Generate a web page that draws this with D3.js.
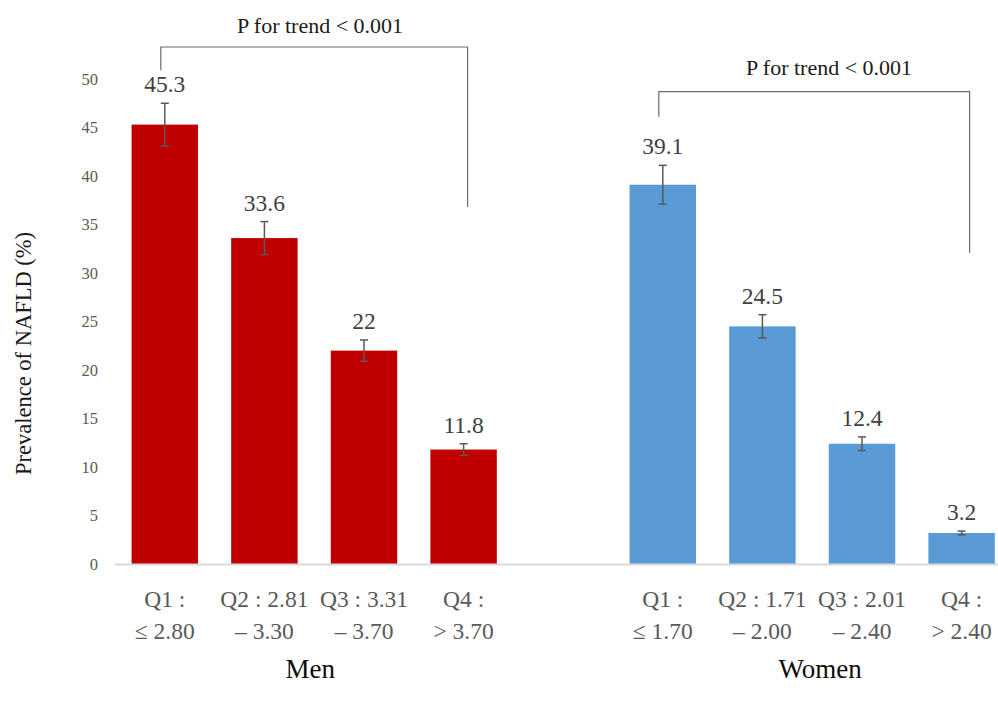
<!DOCTYPE html>
<html>
<head>
<meta charset="utf-8">
<script src="https://cdn.jsdelivr.net/npm/d3@7"></script>
<style>
  html, body { margin: 0; padding: 0; background: #fff; }
  svg { display: block; }
  svg text { font-family: "Liberation Serif", "DejaVu Serif", serif; }
</style>
</head>
<body>
<svg id="chart" width="998" height="702"></svg>
<script>
// ---- data ----
const groups = ["Men", "Women"];
const menLabels = [["Q1 :", "\u2264 2.80"], ["Q2 : 2.81", "\u2013 3.30"], ["Q3 : 3.31", "\u2013 3.70"], ["Q4 :", "> 3.70"]];
const womenLabels = [["Q1 :", "\u2264 1.70"], ["Q2 : 1.71", "\u2013 2.00"], ["Q3 : 2.01", "\u2013 2.40"], ["Q4 :", "> 2.40"]];
const menValues = [45.3, 33.6, 22, 11.8];
const womenValues = [39.1, 24.5, 12.4, 3.2];
const menErrors = [2.2, 1.7, 1.1, 0.6];
const womenErrors = [2.0, 1.2, 0.7, 0.2];
const yTicks = [0, 5, 10, 15, 20, 25, 30, 35, 40, 45, 50];
const trendText = "P for trend < 0.001";
const yTitle = "Prevalence of NAFLD (%)";

const colors = { Men: "#C00000", Women: "#5B9BD5" };

// build rows
const rows = [];
menValues.forEach((v, i) => rows.push({ key: "M" + i, group: "Men", value: v, err: menErrors[i], label: menLabels[i] }));
const gapKey = "gap";
womenValues.forEach((v, i) => rows.push({ key: "W" + i, group: "Women", value: v, err: womenErrors[i], label: womenLabels[i] }));
const domain = [...rows.slice(0, 4).map(d => d.key), gapKey, ...rows.slice(4).map(d => d.key)];

const svg = d3.select("#chart");
const x = d3.scaleBand().domain(domain).range([115, 1011.4]).paddingInner(0.333).paddingOuter(0.1665);
const y = d3.scaleLinear().domain([0, 50]).range([564, 79]);

// y tick labels (no axis line)
const yAxis = d3.axisLeft(y).tickValues(yTicks).tickSize(0).tickPadding(0);
const gy = svg.append("g").attr("transform", "translate(98,0)").call(yAxis);
gy.attr("font-family", null);
gy.select(".domain").remove();
gy.selectAll("text").attr("font-size", 16.5).attr("fill", "#595959");

// y title
svg.append("text")
  .attr("transform", "translate(31," + ((230 + 477) / 2) + ") rotate(-90)")
  .attr("text-anchor", "middle")
  .attr("font-size", 22.5)
  .attr("fill", "#1a1a1a")
  .text(yTitle);

// bars
svg.append("g").selectAll("rect").data(rows).join("rect")
  .attr("x", d => x(d.key))
  .attr("width", x.bandwidth())
  .attr("y", d => y(d.value))
  .attr("height", d => y(0) - y(d.value))
  .attr("fill", d => colors[d.group]);

// x axis line
svg.append("line")
  .attr("x1", 115).attr("x2", 998)
  .attr("y1", y(0) + 0.5).attr("y2", y(0) + 0.5)
  .attr("stroke", "#d9d9d9").attr("stroke-width", 2);

// error bars
const eg = svg.append("g").attr("stroke", "#595959").attr("stroke-width", 1.5).attr("fill", "none");
rows.forEach(d => {
  const cx = x(d.key) + x.bandwidth() / 2;
  eg.append("line").attr("x1", cx).attr("x2", cx).attr("y1", y(d.value + d.err)).attr("y2", y(d.value - d.err));
  eg.append("line").attr("x1", cx - 4).attr("x2", cx + 4).attr("y1", y(d.value + d.err)).attr("y2", y(d.value + d.err));
  eg.append("line").attr("x1", cx - 4).attr("x2", cx + 4).attr("y1", y(d.value - d.err)).attr("y2", y(d.value - d.err));
});

// value labels
svg.append("g").selectAll("text").data(rows).join("text")
  .attr("x", d => x(d.key) + x.bandwidth() / 2)
  .attr("y", d => y(d.value + d.err) - 11)
  .attr("text-anchor", "middle")
  .attr("font-size", 23.5)
  .attr("fill", "#404040")
  .text(d => d.value);

// x category labels (two lines)
const xl = svg.append("g").selectAll("text").data(rows).join("text")
  .attr("text-anchor", "middle")
  .attr("font-size", 23.5)
  .attr("fill", "#595959");
xl.append("tspan").attr("x", d => x(d.key) + x.bandwidth() / 2).attr("y", 607).text(d => d.label[0]);
xl.append("tspan").attr("x", d => x(d.key) + x.bandwidth() / 2).attr("y", 639).text(d => d.label[1]);

// group labels
const groupCenter = g => {
  const ks = rows.filter(r => r.group === g).map(r => r.key);
  return (x(ks[0]) + x(ks[ks.length - 1]) + x.bandwidth()) / 2;
};
svg.append("g").selectAll("text").data(groups).join("text")
  .attr("x", g => groupCenter(g) + (g === "Men" ? -4 : 8))
  .attr("y", 678)
  .attr("text-anchor", "middle")
  .attr("font-size", 27)
  .attr("fill", "#0d0d0d")
  .text(g => g);

// trend brackets
const cxOf = k => x(k) + x.bandwidth() / 2;
const brackets = [
  { x1: cxOf("M0") - 4, x2: cxOf("M3") + 4, top: 53.3, left: 50.9, right: 36.8, tx: 320, ty: 33 },
  { x1: cxOf("W0") - 4, x2: cxOf("W3") + 8, top: 48.7, left: 46.1, right: 32.1, tx: 829, ty: 75 }
];
brackets.forEach(b => {
  svg.append("path")
    .attr("d", d3.line()([[b.x1, y(b.left)], [b.x1, y(b.top)], [b.x2, y(b.top)], [b.x2, y(b.right)]]))
    .attr("fill", "none").attr("stroke", "#6b6b6b").attr("stroke-width", 1.2);
  svg.append("text")
    .attr("x", b.tx).attr("y", b.ty)
    .attr("text-anchor", "middle")
    .attr("font-size", 22)
    .attr("fill", "#1a1a1a")
    .text(trendText);
});
</script>
</body>
</html>
